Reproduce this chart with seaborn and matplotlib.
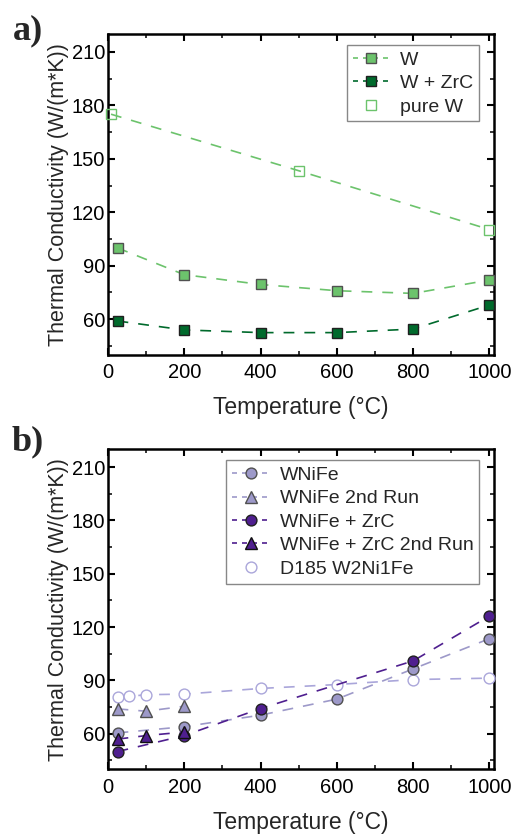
import matplotlib
matplotlib.use("Agg")
import matplotlib.pyplot as plt
from matplotlib.lines import Line2D
from matplotlib.ticker import MultipleLocator
import pandas as pd
import seaborn as sns

# panel a) tungsten samples
w_temp = [25, 200, 400, 600, 800, 1000]
w_k = [100, 85, 79.5, 76, 74.5, 82]
wzrc_temp = [25, 200, 400, 600, 800, 1000]
wzrc_k = [59, 54, 52.5, 52.5, 54.5, 68]
purew_temp = [8, 500, 1000]
purew_k = [175, 143.3, 110.3]

# panel b) WNiFe samples
wnife_temp = [25, 200, 400, 600, 800, 1000]
wnife_k = [60.5, 64, 70.5, 79.5, 96.5, 113.5]
wnife2_temp = [25, 100, 200]
wnife2_k = [74, 72.7, 75.5]
wnifezrc_temp = [25, 200, 400, 800, 1000]
wnifezrc_k = [50, 59, 74.2, 101, 126.2]
wnifezrc2_temp = [25, 100, 200]
wnifezrc2_k = [57, 59, 61]
d185_temp = [25, 55, 100, 200, 400, 600, 800, 1000]
d185_k = [80.6, 81, 82, 82.3, 85.5, 87.7, 90.5, 91.3]

LIGHT_G = '#6cc36c'
DARK_G = '#006a2c'
LIGHT_P = '#9d99c9'
DARK_P = '#4f1f8f'
OPEN_P = '#aaa6da'

sns.set_theme(style='ticks')
plt.rcParams['font.family'] = ['Liberation Sans', 'DejaVu Sans']
plt.rcParams['axes.linewidth'] = 1.8

fig = plt.figure(figsize=(5.13, 8.39), dpi=100)
ax_a = fig.add_axes([0.2105, 0.577, 0.7525, 0.3825])
ax_b = fig.add_axes([0.2105, 0.083, 0.7525, 0.3815])

DASH = (6.5, 6)
MS_SQ = 7.5
MS_O = 7.8
MS_T = 8.8


def draw(ax, x, y, color, marker, ms, face, edge, label):
    df = pd.DataFrame({'T': x, 'k': y})
    sns.lineplot(data=df, x='T', y='k', ax=ax, color=color, lw=1.2,
                 dashes=False, linestyle=(0, DASH), marker=marker, markersize=ms,
                 markerfacecolor=face, markeredgecolor=edge, markeredgewidth=1.0,
                 clip_on=False, zorder=3, label=label, legend=False)


draw(ax_a, w_temp, w_k, LIGHT_G, 's', MS_SQ, LIGHT_G, '#505050', 'W')
draw(ax_a, wzrc_temp, wzrc_k, DARK_G, 's', MS_SQ, DARK_G, '#202020', 'W + ZrC')
draw(ax_a, purew_temp, purew_k, LIGHT_G, 's', MS_SQ, 'none', LIGHT_G, 'pure W')

draw(ax_b, d185_temp, d185_k, OPEN_P, 'o', MS_O, 'white', OPEN_P, 'D185 W2Ni1Fe')
draw(ax_b, wnife_temp, wnife_k, LIGHT_P, 'o', MS_O, LIGHT_P, '#505050', 'WNiFe')
draw(ax_b, wnife2_temp, wnife2_k, LIGHT_P, '^', MS_T, LIGHT_P, '#505050', 'WNiFe 2nd Run')
draw(ax_b, wnifezrc_temp, wnifezrc_k, DARK_P, 'o', MS_O, DARK_P, '#202020', 'WNiFe + ZrC')
draw(ax_b, wnifezrc2_temp, wnifezrc2_k, DARK_P, '^', MS_T, DARK_P, '#101010', 'WNiFe + ZrC 2nd Run')


def handle(color, marker, ms, face, edge, line=True):
    return Line2D([], [], color=color, lw=1.2 if line else 0, linestyle=(0, (3, 3)) if line else 'none',
                  marker=marker, markersize=ms, markerfacecolor=face,
                  markeredgecolor=edge, markeredgewidth=1.0)


ha = [handle(LIGHT_G, 's', MS_SQ, LIGHT_G, '#505050'),
      handle(DARK_G, 's', MS_SQ, DARK_G, '#202020'),
      handle(LIGHT_G, 's', MS_SQ, 'white', LIGHT_G, line=False)]
hb = [handle(LIGHT_P, 'o', MS_O, LIGHT_P, '#505050'),
      handle(LIGHT_P, '^', MS_T, LIGHT_P, '#505050'),
      handle(DARK_P, 'o', MS_O, DARK_P, '#202020'),
      handle(DARK_P, '^', MS_T, DARK_P, '#101010'),
      handle(OPEN_P, 'o', MS_O, 'white', OPEN_P, line=False)]

for ax, hs, labels in [(ax_a, ha, ['W', 'W + ZrC', 'pure W']),
                       (ax_b, hb, ['WNiFe', 'WNiFe 2nd Run', 'WNiFe + ZrC',
                                   'WNiFe + ZrC 2nd Run', 'D185 W2Ni1Fe'])]:
    leg = ax.legend(hs, labels, loc='upper right', bbox_to_anchor=(0.962, 0.965),
                    fontsize=14, frameon=True, fancybox=False, framealpha=1,
                    edgecolor='#888888', handlelength=1.9, handletextpad=0.55,
                    borderpad=0.3, labelspacing=0.3, borderaxespad=0)
    leg.get_frame().set_linewidth(1.0)

    ax.set_xlim(0, 1012)
    ax.set_ylim(40, 220)
    ax.set_xticks([0, 200, 400, 600, 800, 1000])
    ax.set_yticks([60, 90, 120, 150, 180, 210])
    ax.xaxis.set_minor_locator(MultipleLocator(100))
    ax.yaxis.set_minor_locator(MultipleLocator(15))
    ax.tick_params(axis='both', which='major', labelsize=14.5, width=1.5, length=5,
                   top=True, right=True, colors='black')
    ax.tick_params(axis='both', which='minor', width=1.3, length=3, top=True, right=True)
    ax.tick_params(axis='x', which='both', direction='in', pad=6)
    ax.tick_params(axis='y', which='both', left=True, direction='out', pad=2)
    ax.tick_params(axis='y', which='both', right=True, direction='in')
    ax.set_xlabel('Temperature (\u00b0C)', fontsize=16.5, labelpad=10)
    ax.set_ylabel('Thermal Conductivity (W/(m*K))', fontsize=15.5, labelpad=2)
    for s in ax.spines.values():
        s.set_color('black')
        s.set_linewidth(1.8)

fig.text(0.025, 0.953, 'a)', fontsize=26, fontweight='bold',
         family=['Liberation Serif', 'DejaVu Serif'], va='baseline')
fig.text(0.022, 0.463, 'b)', fontsize=26, fontweight='bold',
         family=['Liberation Serif', 'DejaVu Serif'], va='baseline')

fig.savefig('out.png', dpi=100)
